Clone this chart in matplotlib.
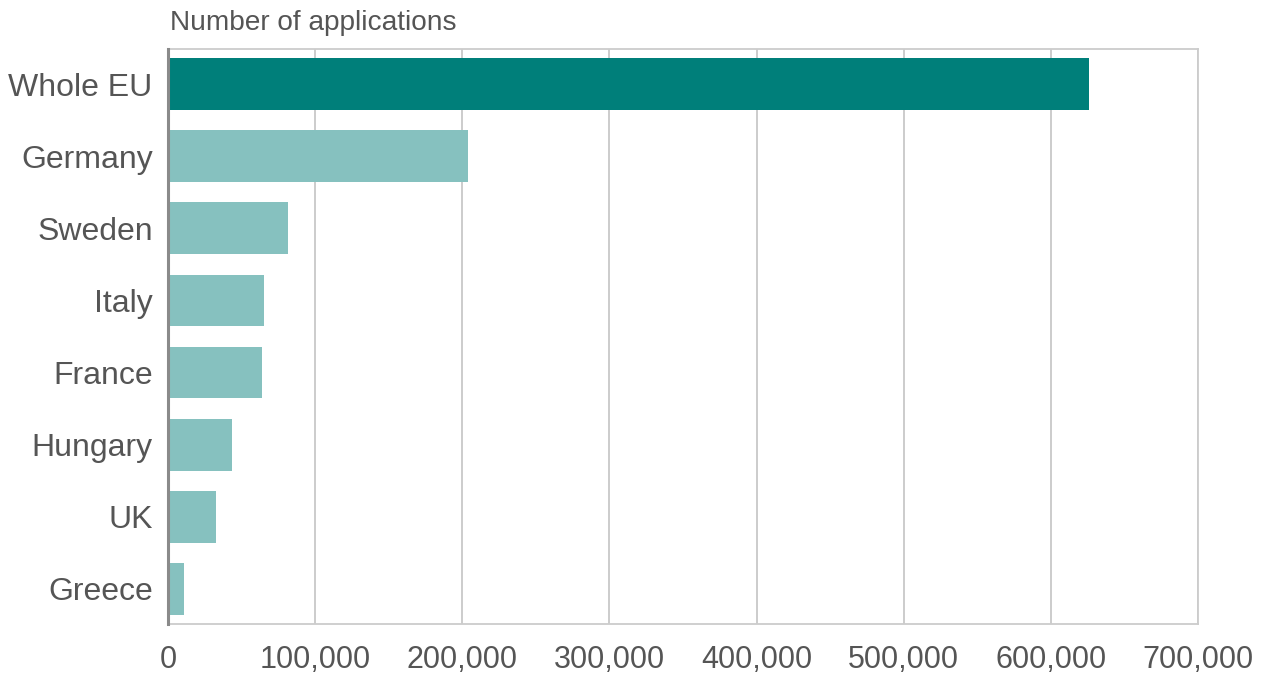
import matplotlib
matplotlib.use("Agg")
import matplotlib.pyplot as plt
from matplotlib.ticker import FuncFormatter, MultipleLocator

categories = ["Whole EU", "Germany", "Sweden", "Italy", "France", "Hungary", "UK", "Greece"]
values = [626000, 204000, 81500, 65200, 63900, 43500, 32600, 10900]
bar_colors = ["#007f7a"] + ["#86c1bf"] * 7
title = "Number of applications"

plt.rcParams['font.family'] = ['Liberation Sans', 'DejaVu Sans']

fig = plt.figure(figsize=(12.65, 6.73), dpi=100)
ax = fig.add_axes([168 / 1265, 1 - 624 / 673, (1198 - 168) / 1265, (624 - 49) / 673])

ax.barh(range(len(categories)), values, height=0.72, color=bar_colors, zorder=3)
ax.set_ylim(7.49, -0.49)
ax.set_xlim(0, 700000)
ax.set_yticks(range(len(categories)))
ax.xaxis.set_major_locator(MultipleLocator(100000))
ax.xaxis.set_major_formatter(FuncFormatter(lambda v, p: f"{int(v):,}"))
ax.set_yticklabels(categories, fontsize=23)

ax.grid(axis='x', color='#c8c8c8', linewidth=1.3, zorder=0)
ax.grid(axis='y', visible=False)
for s in ['top', 'right', 'bottom']:
    ax.spines[s].set_color('#cccccc')
    ax.spines[s].set_linewidth(1.3)
ax.spines['left'].set_color('#8a8a8a')
ax.spines['left'].set_linewidth(2.2)
ax.spines['left'].set_zorder(4)

ax.tick_params(axis='both', length=0, labelcolor='#555555')
ax.tick_params(axis='x', labelsize=22, pad=15)
ax.tick_params(axis='y', pad=11)

fig.text(170 / 1265, 1 - 23 / 673, title, fontsize=20.2, color='#555555', ha='left', va='center')

fig.savefig("out.png", dpi=100)
